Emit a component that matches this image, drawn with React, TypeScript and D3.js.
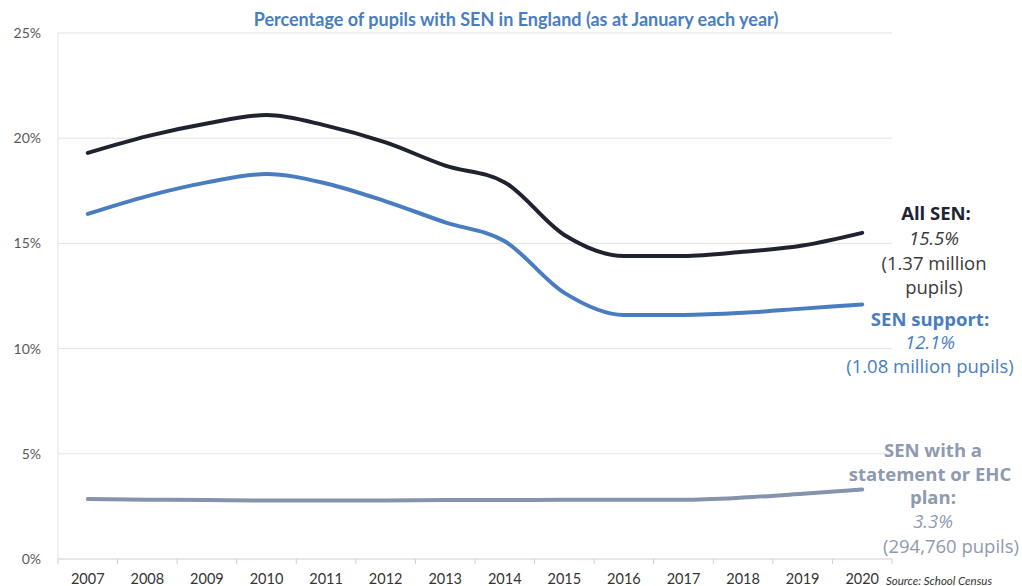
import React from "react";
import * as d3 from "d3";

const years = ["2007","2008","2009","2010","2011","2012","2013","2014","2015","2016","2017","2018","2019","2020"];
const allSEN = [19.3, 20.1, 20.7, 21.1, 20.6, 19.8, 18.7, 17.9, 15.4, 14.4, 14.4, 14.6, 14.9, 15.5];
const senSupport = [16.4, 17.25, 17.9, 18.3, 17.85, 17.0, 16.0, 15.1, 12.65, 11.6, 11.6, 11.7, 11.9, 12.1];
const senStatement = [2.85, 2.82, 2.8, 2.78, 2.78, 2.78, 2.8, 2.8, 2.82, 2.82, 2.82, 2.92, 3.1, 3.3];
const yTicks = [0, 5, 10, 15, 20, 25];

const W = 1022, H = 586;
const M = { left: 58, right: 892, top: 33, bottom: 559 };

export default function App() {
  const x = d3.scaleBand<string>().domain(years).range([M.left, M.right]).padding(0);
  const y = d3.scaleLinear().domain([0, 25]).range([M.bottom, M.top]);
  const cx = (i: number) => (x(years[i]) as number) + x.bandwidth() / 2;
  const line = d3.line<number>().x((_, i) => cx(i)).y((d) => y(d)).curve(d3.curveMonotoneX);

  const series = [
    { data: allSEN, color: "#1f2330" },
    { data: senSupport, color: "#4a7dc0" },
    { data: senStatement, color: "#8494ae" },
  ];
  const font = "'Open Sans', sans-serif";
  const tickFont = "Lato, 'Open Sans', sans-serif";
  const fs = 18.5;

  return (
    <svg width={W} height={H} style={{ position: "absolute", left: 0, top: 0, background: "#fff" }}>
      <rect width={W} height={H} fill="#fff" />
      {yTicks.map((t) => (
        <g key={t}>
          <line x1={M.left} x2={M.right} y1={y(t)} y2={y(t)} stroke={t === 0 ? "#cfcfcf" : "#e3e3e3"} strokeWidth={1} />
          <text x={41} y={y(t) + 5} textAnchor="end" fontFamily={tickFont} fontSize={14} fill="#595959">{t}%</text>
        </g>
      ))}
      <line x1={M.left} x2={M.left} y1={M.top} y2={M.bottom} stroke="#e3e3e3" />
      {years.map((yr, i) => (
        <g key={yr}>
          <line x1={(x(yr) as number)} x2={(x(yr) as number)} y1={M.bottom} y2={M.bottom + 5} stroke="#cfcfcf" />
          <text x={cx(i)} y={584} textAnchor="middle" fontFamily={tickFont} fontSize={14.5} fill="#333">{yr}</text>
        </g>
      ))}
      <line x1={M.right} x2={M.right} y1={M.bottom} y2={M.bottom + 5} stroke="#cfcfcf" />
      {series.map((s, k) => (
        <path key={k} d={line(s.data) as string} fill="none" stroke={s.color} strokeWidth={4} strokeLinecap="round" strokeLinejoin="round" />
      ))}
      <text x={516} y={26} textAnchor="middle" fontFamily={tickFont} fontSize={18} fontWeight={700} fill="#4a7dc0">
        Percentage of pupils with SEN in England (as at January each year)
      </text>

      <g fontFamily={font} fontSize={fs} textAnchor="middle" fill="#1f2330">
        <text x={936} y={220} fontWeight={700}>All SEN:</text>
        <text x={934} y={245} fontStyle="italic" fill="#3a3a3a">15.5%</text>
        <text x={934} y={270} fill="#3a3a3a">(1.37 million</text>
        <text x={934} y={294} fill="#3a3a3a">pupils)</text>
      </g>
      <g fontFamily={font} fontSize={fs} textAnchor="middle" fill="#4a7dc0">
        <text x={930} y={326} fontWeight={700}>SEN support:</text>
        <text x={930} y={349} fontStyle="italic">12.1%</text>
        <text x={930} y={373}>(1.08 million pupils)</text>
      </g>
      <g fontFamily={font} fontSize={fs} textAnchor="middle" fill="#8e9ab0">
        <text x={933} y={457} fontWeight={700}>SEN with a</text>
        <text x={930} y={481} fontWeight={700}>statement or EHC</text>
        <text x={933} y={504} fontWeight={700}>plan:</text>
        <text x={933} y={528} fontStyle="italic">3.3%</text>
        <text x={951} y={553}>(294,760 pupils)</text>
      </g>
      <text x={886} y={585} fontFamily={tickFont} fontSize={11.5} fontStyle="italic" fill="#333">Source: School Census</text>
    </svg>
  );
}
